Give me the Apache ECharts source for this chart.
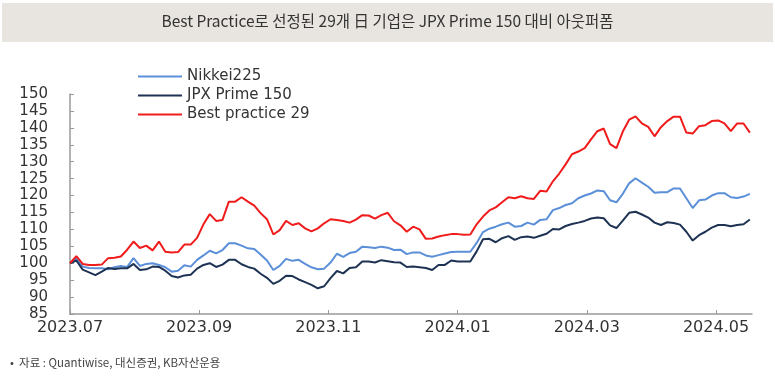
<!DOCTYPE html>
<html>
<head>
<meta charset="utf-8">
<script src="https://cdn.jsdelivr.net/npm/echarts@6/dist/echarts.min.js"></script>
<style>
  html, body { margin: 0; padding: 0; background: #fff; }
  #main { width: 775px; height: 377px; }
</style>
</head>
<body>
<div id="main"></div>
<script>
// 2023-07-01 부터 3일 간격
let dayStep = 3
let tickLabels = ['2023.07', '2023.09', '2023.11', '2024.01', '2024.03', '2024.05']

let nikkei = [
  100, 101.4, 99, 98.6, 98.5, 98.5, 98.2, 98.8, 99.2, 98.9,
  101.5, 99.2, 99.8, 100, 99.5, 98.8, 97.5, 97.8, 99.4, 99,
  101, 102.3, 103.7, 102.9, 103.9, 105.9, 105.9, 105.2, 104.4, 104.2,
  102.6, 100.8, 98, 99.2, 101.3, 100.7, 101, 99.8, 98.8, 98.2,
  98.4, 100.2, 102.8, 101.9, 103, 103.4, 104.9, 104.7, 104.5, 104.9,
  104.6, 103.9, 104, 102.7, 103.2, 103.2, 102.3, 101.9, 102.4, 102.9,
  103.3, 103.4, 103.4, 103.4, 106, 109.2, 110.2, 110.8, 111.5, 112,
  110.8, 111, 112, 111.4, 112.8, 113, 115.7, 116.3, 117.2, 117.7,
  119.2, 120, 120.6, 121.5, 121.3, 118.6, 118, 120.5, 123.6, 125.1,
  123.8, 122.6, 120.8, 121, 121, 122.1, 122.1, 119.2, 116.3, 118.6,
  118.8, 120, 120.7, 120.7, 119.5, 119.3, 119.7, 120.5
]
let jpx = [
  100, 100.8, 98.1, 97.3, 96.5, 97.5, 98.6, 98.3, 98.5, 98.5,
  99.8, 98, 98.2, 99, 98.9, 97.8, 96.2, 95.8, 96.4, 96.6,
  98.4, 99.5, 100, 98.9, 99.6, 101, 101, 99.7, 98.9, 98.4,
  96.9, 95.7, 93.9, 94.8, 96.3, 96.2, 95.2, 94.4, 93.6, 92.6,
  93.2, 95.6, 97.7, 97, 98.6, 98.8, 100.5, 100.5, 100.2, 100.9,
  100.6, 100.3, 100.2, 98.9, 99, 98.8, 98.6, 98, 99.5, 99.5,
  100.8, 100.5, 100.5, 100.5, 103.5, 107.1, 107.2, 106.2, 107.4, 108,
  106.9, 107.7, 107.9, 107.5, 108.1, 108.7, 110.1, 110, 111, 111.6,
  112, 112.5, 113.2, 113.5, 113.3, 111.2, 110.4, 112.6, 114.9, 115.2,
  114.4, 113.5, 112, 111.3, 112.1, 111.9, 111.4, 109.3, 106.7, 108.3,
  109.3, 110.5, 111.3, 111.3, 110.9, 111.3, 111.5, 112.9
]
let best29 = [
  100, 102.1, 99.8, 99.5, 99.5, 99.6, 101.5, 101.6, 102, 104,
  106.4, 104.5, 105.2, 103.8, 106.4, 103.4, 103.2, 103.3, 105.5, 105.5,
  107.5, 111.5, 114.5, 112.5, 112.8, 118.2, 118.2, 119.5, 118.2, 117,
  114.8, 113, 108.5, 109.8, 112.5, 111.3, 111.8, 110.3, 109.4, 110.3,
  111.8, 113, 112.8, 112.5, 112, 112.9, 114.2, 114.1, 113.2, 114.2,
  114.9, 112.4, 111.2, 109.3, 110.8, 110, 107.2, 107.3, 107.9, 108.3,
  108.6, 108.6, 108.4, 108.5, 111.5, 113.8, 115.6, 116.5, 118, 119.5,
  119.2, 119.8, 119.2, 119, 121.4, 121.2, 124.2, 126.5, 129.2, 132.2,
  133, 134, 136.6, 139, 139.8, 135.2, 134, 138.9, 142.4, 143.4,
  141.3, 140.3, 137.5, 140.2, 142, 143.3, 143.3, 138.6, 138.3, 140.5,
  140.8, 142, 142.2, 141.3, 139, 141.3, 141.3, 138.6
]

function pairs(arr) {
  return arr.map((v, i) => [i * dayStep, v])
}

var myChart = echarts.init(document.getElementById('main'))
var axisFont = { color: '#333', fontSize: 15, fontFamily: 'DejaVu Sans' }

var option = {
  animation: false,
  backgroundColor: '#fff',
  graphic: [
    {
      type: 'rect',
      shape: { x: 2, y: 3, width: 771, height: 39 },
      style: { fill: '#e8e4df' },
      z: 0
    },
    {
      type: 'text',
      left: 'center',
      top: 13,
      style: {
        text: 'Best Practice로 선정된 29개 日 기업은 JPX Prime 150 대비 아웃퍼폼',
        fill: '#333',
        font: '15.5px "Noto Sans CJK KR"'
      },
      z: 1
    },
    {
      type: 'text',
      left: 10,
      top: 357,
      style: {
        text: '•  자료 : Quantiwise, 대신증권, KB자산운용',
        fill: '#444',
        font: '11.5px "Noto Sans CJK KR"'
      }
    }
  ],
  legend: {
    orient: 'vertical',
    left: 133,
    top: 64,
    itemWidth: 44,
    itemHeight: 2,
    itemGap: 4,
    icon: 'rect',
    textStyle: { color: '#333', fontSize: 15, lineHeight: 15, fontFamily: 'DejaVu Sans' },
    data: ['Nikkei225', 'JPX Prime 150', 'Best practice 29']
  },
  grid: { left: 70, right: 23, top: 94, bottom: 63 },
  xAxis: {
    type: 'value',
    min: 0,
    max: 322,
    interval: 61,
    axisLine: { lineStyle: { color: '#999', width: 1.5 } },
    axisTick: { inside: true, length: 4, lineStyle: { color: '#999' } },
    axisLabel: Object.assign({
      margin: 6,
      showMaxLabel: false,
      formatter: v => tickLabels[Math.round(v / 61)] || ''
    }, axisFont, { fontSize: 16 }),
    splitLine: { show: false }
  },
  yAxis: {
    type: 'value',
    min: 85,
    max: 150,
    interval: 5,
    axisLine: { show: true, lineStyle: { color: '#999', width: 1.5 } },
    axisTick: { show: true, inside: true, length: 4, lineStyle: { color: '#999' } },
    axisLabel: Object.assign({ margin: 22 }, axisFont),
    splitLine: { show: false }
  },
  series: [
    {
      name: 'Nikkei225',
      type: 'line',
      data: pairs(nikkei),
      showSymbol: false,
      color: '#5b8fd8',
      lineStyle: { width: 2 }
    },
    {
      name: 'JPX Prime 150',
      type: 'line',
      data: pairs(jpx),
      showSymbol: false,
      color: '#1e3354',
      lineStyle: { width: 2 }
    },
    {
      name: 'Best practice 29',
      type: 'line',
      data: pairs(best29),
      showSymbol: false,
      color: '#f01c1c',
      lineStyle: { width: 2 }
    }
  ]
}
myChart.setOption(option)
</script>
</body>
</html>
